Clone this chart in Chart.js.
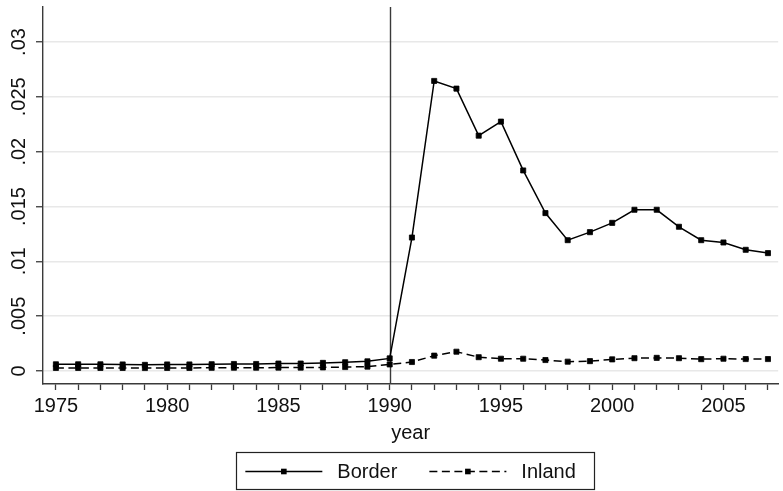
<!DOCTYPE html>
<html><head><meta charset="utf-8">
<script src="https://cdn.jsdelivr.net/npm/chart.js@4/dist/chart.umd.min.js"></script>
<style>html,body{margin:0;padding:0;background:#fff}#wrap{width:783px;height:491px;position:relative}</style>
</head><body><div id="wrap"><canvas id="c" width="783" height="491"></canvas></div>
<script>
// ---- data ----
const years = [1975,1976,1977,1978,1979,1980,1981,1982,1983,1984,1985,1986,1987,1988,1989,1990,
               1991,1992,1993,1994,1995,1996,1997,1998,1999,2000,2001,2002,2003,2004,2005,2006,2007];
const border = [0.00061,0.00061,0.00061,0.00060,0.00056,0.00060,0.00060,0.00062,0.00064,0.00064,
                0.00068,0.00068,0.00074,0.00080,0.00088,0.00115,
                0.01217,0.02645,0.02575,0.02146,0.02274,0.01829,0.01440,0.01193,0.01266,0.01351,
                0.01470,0.01470,0.01315,0.01193,0.01172,0.01105,0.01075];
const inland = [0.00028,0.00028,0.00028,0.00028,0.00027,0.00028,0.00028,0.00029,0.00030,0.00030,
                0.00031,0.00031,0.00033,0.00036,0.00040,0.00060,
                0.00082,0.00140,0.00176,0.00126,0.00112,0.00112,0.00100,0.00085,0.00090,0.00106,
                0.00117,0.00120,0.00117,0.00108,0.00112,0.00109,0.00109];
const seriesNames = ['Border','Inland'];
const yTickValues = [0,0.005,0.01,0.015,0.02,0.025,0.03];
const yTickLabels = ['0','.005','.01','.015','.02','.025','.03'];
const xLabelYears = [1975,1980,1985,1990,1995,2000,2005];
const xTitle = 'year';
const refYear = 1990;

const FONT = '"Liberation Sans", Arial, Helvetica, sans-serif';
const AXIS = '#3a3a3a';

const refLine = {
  id: 'refLine',
  beforeDatasetsDraw(chart) {
    const {ctx, chartArea: ca, scales: {x}} = chart;
    const px = Math.round(x.getPixelForValue(refYear)) + 0.5;
    ctx.save();
    ctx.strokeStyle = AXIS; ctx.lineWidth = 1.4;
    ctx.beginPath(); ctx.moveTo(px, ca.top); ctx.lineTo(px, ca.bottom); ctx.stroke();
    ctx.restore();
  }
};

const boxLegend = {
  id: 'boxLegend',
  afterDraw(chart) {
    const ctx = chart.ctx, ca = chart.chartArea;
    ctx.save();
    ctx.font = '20px ' + FONT;
    const symLen = 77, gapText = 15, gapItem = 32;
    const items = chart.data.datasets.map(ds => ({ds, w: ctx.measureText(ds.label).width}));
    const total = items.reduce((s, it) => s + symLen + gapText + it.w, 0) + gapItem * (items.length - 1);
    let x = (ca.left + ca.right) / 2 - total / 2;
    const top = ca.bottom + 68, h = 37, cy = top + 19.5;
    ctx.strokeStyle = '#222'; ctx.lineWidth = 1.2;
    ctx.strokeRect(Math.round(x - 9) + 0.5, Math.round(top) + 0.5, Math.round(total + 27), h);
    items.forEach(it => {
      const ds = it.ds;
      ctx.beginPath();
      ctx.setLineDash(ds.borderDash || []);
      ctx.lineWidth = ds.borderWidth; ctx.strokeStyle = ds.borderColor;
      ctx.moveTo(x, cy); ctx.lineTo(x + symLen, cy); ctx.stroke();
      ctx.setLineDash([]);
      ctx.fillStyle = ds.pointBackgroundColor;
      ctx.fillRect(x + symLen / 2 - 2.8, cy - 2.8, 5.6, 5.6);
      ctx.fillStyle = '#111'; ctx.textBaseline = 'middle'; ctx.textAlign = 'left';
      ctx.fillText(ds.label, x + symLen + gapText, cy + 1);
      x += symLen + gapText + it.w + gapItem;
    });
    ctx.restore();
  }
};

const mk = (arr) => years.map((y, i) => ({x: y, y: arr[i]}));

new Chart(document.getElementById('c'), {
  type: 'line',
  data: {
    datasets: [
      {label: seriesNames[0], data: mk(border), borderColor: '#000', backgroundColor: '#000',
       borderWidth: 1.5, pointStyle: 'rect', pointRadius: 3.6, pointBorderWidth: 0.8,
       pointBackgroundColor: '#000', pointBorderColor: '#000', tension: 0, fill: false},
      {label: seriesNames[1], data: mk(inland), borderColor: '#000', backgroundColor: '#000',
       borderWidth: 1.5, borderDash: [8, 4.5], pointStyle: 'rect', pointRadius: 3.6, pointBorderWidth: 0.8,
       pointBackgroundColor: '#000', pointBorderColor: '#000', tension: 0, fill: false}
    ]
  },
  options: {
    responsive: false, animation: false, devicePixelRatio: 1,
    layout: {padding: {top: 7, left: 0, right: 0, bottom: 44}},
    plugins: {legend: {display: false}, tooltip: {enabled: false}, title: {display: false}},
    scales: {
      x: {
        type: 'linear', min: 1974.42, max: 2007.46,
        afterBuildTicks: (s) => { s.ticks = years.map(v => ({value: v})); },
        afterFit: (s) => { s.height = 63; s.paddingLeft = 0; s.paddingRight = 0; },
        grid: {drawOnChartArea: false, color: AXIS, tickColor: AXIS, tickLength: 6, tickWidth: 1.3},
        border: {color: AXIS, width: 1.4},
        ticks: {autoSkip: false, maxRotation: 0, minRotation: 0, padding: 4, color: '#111',
                font: {family: FONT, size: 20},
                callback: (v) => xLabelYears.includes(v) ? String(v) : ''},
        title: {display: true, text: xTitle, color: '#111', font: {family: FONT, size: 20},
                padding: {top: 0, bottom: 2}}
      },
      y: {
        type: 'linear', min: -0.001185, max: 0.033192,
        afterBuildTicks: (s) => { s.ticks = yTickValues.map(v => ({value: v})); },
        afterFit: (s) => { s.width = 43; s.paddingTop = 0; s.paddingBottom = 0; },
        grid: {color: '#e8e8e8', lineWidth: 1.5, tickColor: AXIS, tickLength: 7, tickWidth: 1.3},
        border: {color: AXIS, width: 1.4},
        ticks: {minRotation: 90, maxRotation: 90, crossAlign: 'center', padding: -3, color: '#111',
                font: {family: FONT, size: 20},
                callback: (v) => { const i = yTickValues.findIndex(t => Math.abs(t - v) < 1e-9); return i >= 0 ? yTickLabels[i] : ''; }}
      }
    }
  },
  plugins: [refLine, boxLegend]
});
</script>
</body></html>
